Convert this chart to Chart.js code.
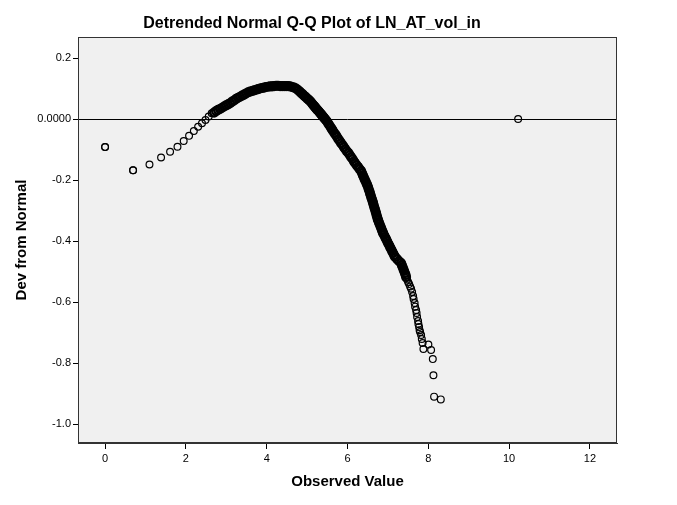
<!DOCTYPE html>
<html>
<head>
<meta charset="utf-8">
<title>Detrended Normal Q-Q Plot of LN_AT_vol_in</title>
<script src="https://cdn.jsdelivr.net/npm/chart.js@4/dist/chart.umd.min.js"></script>
<style>
    html, body { margin: 0; padding: 0; background: #ffffff; }
    #wrap { width: 677px; height: 505px; }
</style>
</head>
<body>
<div id="wrap"><canvas id="qqChart" width="677" height="505"></canvas></div>
<script>
// Chart data
const chartTitle = 'Detrended Normal Q-Q Plot of LN_AT_vol_in';
const xAxisTitle = 'Observed Value';
const yAxisTitle = 'Dev from Normal';

// observed value (x) and deviation from normal (y), one entry per point
const observedValues = [
    0, 0, 0.693, 0.693, 1.099, 1.386, 1.609, 1.792, 1.946, 2.079,
    2.197, 2.303, 2.398, 2.485, 2.565, 2.639,
    2.698, 2.747, 2.797, 2.846, 2.896, 2.945, 2.995, 3.045, 3.094, 3.144,
    3.193, 3.243, 3.292, 3.342, 3.391, 3.441, 3.490, 3.540, 3.589, 3.639,
    3.688, 3.738, 3.787, 3.837, 3.886, 3.936, 3.985, 4.035, 4.084, 4.134,
    4.183, 4.233, 4.282, 4.332, 4.381, 4.431, 4.480, 4.530,
    4.579, 4.629, 4.678, 4.728, 4.777, 4.827, 4.864, 4.901, 4.938, 4.975,
    5.012, 5.049, 5.087, 5.124, 5.148, 5.173, 5.198, 5.223, 5.247, 5.272,
    5.297, 5.322, 5.346, 5.371, 5.396, 5.421, 5.445, 5.470, 5.495, 5.527,
    5.557, 5.589, 5.619, 5.643, 5.676, 5.710, 5.743, 5.775, 5.809, 5.842,
    5.879, 5.911, 5.946, 5.980, 6.022, 6.057, 6.091, 6.126, 6.161, 6.188,
    6.225, 6.262, 6.299, 6.337, 6.359, 6.381, 6.401, 6.423, 6.446, 6.468,
    6.488, 6.510, 6.525, 6.542, 6.557, 6.572, 6.586, 6.604, 6.619, 6.634,
    6.648, 6.663, 6.678, 6.693, 6.708, 6.720, 6.735, 6.747, 6.757, 6.777,
    6.794, 6.814, 6.834, 6.851, 6.871, 6.881, 6.906, 6.931, 6.955, 6.980,
    7.005, 7.030, 7.054, 7.079, 7.104, 7.129, 7.153, 7.178, 7.228, 7.277,
    7.327, 7.346, 7.364, 7.384, 7.401, 7.421, 7.438, 7.450, 7.475, 7.500,
    7.525, 7.549, 7.574, 7.599, 7.624, 7.636, 7.661, 7.673, 7.698, 7.710,
    7.723, 7.747, 7.755, 7.772, 7.784, 7.797, 7.822, 7.839, 7.859, 7.879,
    8.002, 8.069, 8.111, 8.127, 8.143, 8.309,
    10.223
];

const devFromNormal = [
    -0.092, -0.092, -0.168, -0.168, -0.149, -0.126, -0.107, -0.091, -0.072, -0.055,
    -0.039, -0.025, -0.014, -0.003, 0.008, 0.019,
    0.021, 0.026, 0.030, 0.033, 0.037, 0.041, 0.045, 0.048, 0.052, 0.057,
    0.061, 0.066, 0.070, 0.073, 0.077, 0.080, 0.084, 0.088, 0.090, 0.092,
    0.094, 0.096, 0.098, 0.100, 0.102, 0.103, 0.105, 0.106, 0.107, 0.107,
    0.108, 0.109, 0.109, 0.108, 0.108, 0.108, 0.108, 0.108,
    0.107, 0.105, 0.103, 0.100, 0.095, 0.089, 0.084, 0.080, 0.075, 0.071,
    0.066, 0.062, 0.057, 0.051, 0.047, 0.043, 0.039, 0.035, 0.031, 0.028,
    0.024, 0.020, 0.016, 0.012, 0.008, 0.004, 0.000, -0.004, -0.008, -0.015,
    -0.021, -0.028, -0.034, -0.039, -0.046, -0.052, -0.059, -0.066, -0.072, -0.079,
    -0.085, -0.092, -0.098, -0.105, -0.111, -0.118, -0.125, -0.131, -0.139, -0.144,
    -0.151, -0.157, -0.164, -0.170, -0.177, -0.184, -0.190, -0.197, -0.203, -0.210,
    -0.216, -0.223, -0.230, -0.236, -0.243, -0.249, -0.256, -0.262, -0.269, -0.275,
    -0.282, -0.289, -0.295, -0.302, -0.308, -0.315, -0.321, -0.328, -0.331, -0.338,
    -0.344, -0.351, -0.357, -0.364, -0.370, -0.374, -0.380, -0.387, -0.393, -0.400,
    -0.407, -0.413, -0.420, -0.426, -0.433, -0.439, -0.446, -0.452, -0.459, -0.466,
    -0.472, -0.479, -0.485, -0.492, -0.498, -0.505, -0.511, -0.518, -0.526, -0.534,
    -0.541, -0.549, -0.556, -0.567, -0.580, -0.590, -0.603, -0.615, -0.626, -0.636,
    -0.649, -0.662, -0.672, -0.682, -0.692, -0.698, -0.708, -0.721, -0.734, -0.754,
    -0.739, -0.757, -0.787, -0.840, -0.910, -0.919,
    0.000
];

// axis ranges and tick steps
const xRange = [-0.67, 12.67];
const yRange = [-1.062, 0.269];
const xStep = 2;
const yStep = 0.2;

const FONT = 'Arial, "Liberation Sans", sans-serif';

// where the reference points pile up into one solid band
const denseFrom = 2.69;
const denseTo = 7.46;

function isDense(ctx) {
    const p = ctx.raw;
    return p && p.x > denseFrom && p.x < denseTo;
}

// Plot box: grey fill, dark frame, reference line at zero, title
const plotFrame = {
    id: 'plotFrame',
    beforeDraw(chart) {
        const { ctx, chartArea: a } = chart;
        ctx.save();
        ctx.fillStyle = '#f0f0f0';
        ctx.fillRect(a.left, a.top, a.right - a.left, a.bottom - a.top);
        ctx.restore();
    },
    beforeDatasetsDraw(chart) {
        const { ctx, chartArea: a } = chart;
        const y0 = Math.round(chart.scales.y.getPixelForValue(0)) + 0.5;
        ctx.save();
        ctx.strokeStyle = '#000000';
        ctx.lineWidth = 1;
        ctx.beginPath();
        ctx.moveTo(a.left, y0);
        ctx.lineTo(a.right, y0);
        ctx.stroke();
        ctx.restore();
    },
    afterDraw(chart) {
        const { ctx, chartArea: a } = chart;
        ctx.save();
        ctx.strokeStyle = '#333333';
        ctx.lineWidth = 1;
        ctx.strokeRect(Math.round(a.left) + 0.5, Math.round(a.top) + 0.5,
            Math.round(a.right - a.left) - 1, Math.round(a.bottom - a.top) - 1);
        // title sits a bit left of the plot centre, as in SPSS output
        ctx.fillStyle = '#000000';
        ctx.font = 'bold 16px ' + FONT;
        ctx.textAlign = 'center';
        ctx.textBaseline = 'middle';
        ctx.fillText(chartTitle, 312, 24);
        ctx.restore();
    }
};

const points = observedValues.map((x, i) => ({ x: x, y: devFromNormal[i] }));

new Chart(document.getElementById('qqChart'), {
    type: 'scatter',
    data: {
        datasets: [{
            data: points,
            pointStyle: 'circle',
            pointRadius: ctx => isDense(ctx) ? 3.9 : 3.4,
            pointBorderWidth: ctx => isDense(ctx) ? 2.3 : 1.2,
            pointBorderColor: '#000000',
            pointBackgroundColor: 'rgba(0,0,0,0)',
            showLine: false
        }]
    },
    options: {
        responsive: false,
        animation: false,
        layout: {
            padding: { left: 0, top: 37, right: 60, bottom: 0 }
        },
        plugins: {
            legend: { display: false },
            tooltip: { enabled: false }
        },
        scales: {
            x: {
                type: 'linear',
                min: xRange[0],
                max: xRange[1],
                afterFit: function(scale) { scale.height = 62; },
                ticks: {
                    stepSize: xStep,
                    includeBounds: false,
                    padding: 3,
                    color: '#000000',
                    font: { family: FONT, size: 11 },
                    maxRotation: 0
                },
                grid: {
                    drawOnChartArea: false,
                    drawTicks: true,
                    tickLength: 6,
                    color: '#000000'
                },
                border: { display: true, color: '#333333' },
                title: {
                    display: true,
                    text: xAxisTitle,
                    color: '#000000',
                    font: { family: FONT, size: 15, weight: 'bold' },
                    padding: { top: 0, bottom: 14 }
                }
            },
            y: {
                type: 'linear',
                min: yRange[0],
                max: yRange[1],
                afterFit: function(scale) { scale.width = 78; },
                ticks: {
                    stepSize: yStep,
                    includeBounds: false,
                    padding: 2,
                    color: '#000000',
                    font: { family: FONT, size: 11 },
                    callback: function(value) {
                        if (Math.abs(value) < 1e-9) return '0.0000';
                        return value.toFixed(1);
                    }
                },
                grid: {
                    drawOnChartArea: false,
                    drawTicks: true,
                    tickLength: 5,
                    color: '#000000'
                },
                border: { display: true, color: '#333333' },
                title: {
                    display: true,
                    text: yAxisTitle,
                    color: '#000000',
                    font: { family: FONT, size: 15, weight: 'bold' },
                    padding: { top: 13, bottom: 0 }
                }
            }
        }
    },
    plugins: [plotFrame]
});
</script>
</body>
</html>
